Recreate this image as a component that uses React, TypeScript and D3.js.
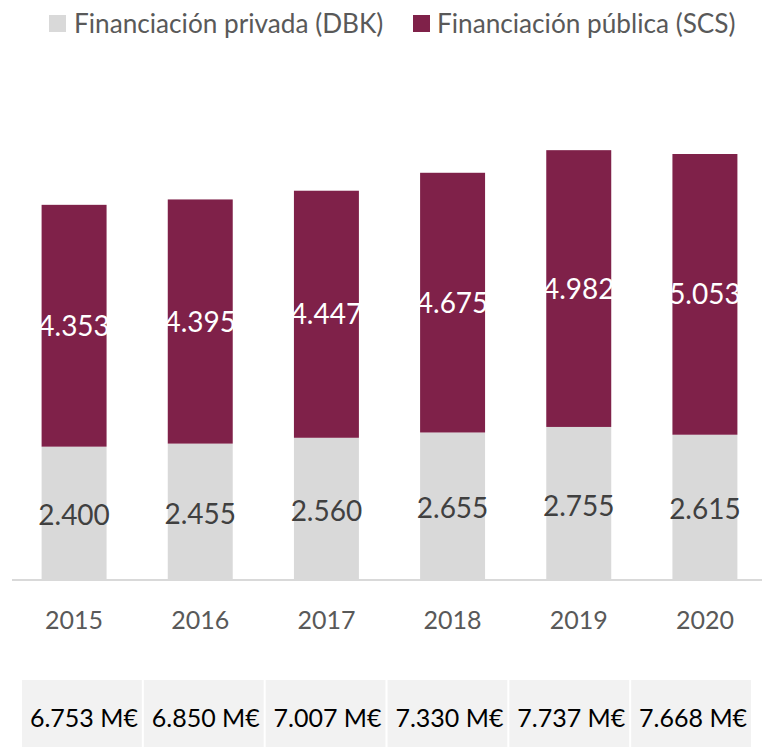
import React from "react";
import * as d3 from "d3";

const years = ["2015", "2016", "2017", "2018", "2019", "2020"];
const privada = [2400, 2455, 2560, 2655, 2755, 2615];
const publica = [4353, 4395, 4447, 4675, 4982, 5053];
const totals = ["6.753 M€", "6.850 M€", "7.007 M€", "7.330 M€", "7.737 M€", "7.668 M€"];
const legendLabels = ["Financiación privada (DBK)", "Financiación pública (SCS)"];

const W = 762;
const H = 747;
const FONT = "Lato, 'Open Sans', sans-serif";
const COL_PRIV = "#d9d9d9";
const COL_PUB = "#7f2149";

const fmt = (v: number) => d3.format(",")(v).replace(/,/g, ".");

export default function App() {
  const x = d3.scaleBand<string>().domain(years).range([11, 768]).paddingInner(0.485).paddingOuter(0.2425);
  const y = d3.scaleLinear().domain([0, 9000]).range([580, 80]);
  const tbl = d3.scaleBand<string>().domain(years).range([22, 751]).paddingInner(0.0165).paddingOuter(0);

  const data = years.map((yr, i) => ({ yr, p: privada[i], q: publica[i] }));
  const stack = d3.stack<any>().keys(["p", "q"])(data);

  return (
    <svg width={W} height={H} style={{ position: "absolute", left: 0, top: 0 }}>
      <rect width={W} height={H} fill="#fff" />
      {/* legend */}
      <rect x={49} y={15} width={17} height={17} fill={COL_PRIV} />
      <text x={74} y={33} fontFamily={FONT} fontSize={26.2} fill="#595959">{legendLabels[0]}</text>
      <rect x={413} y={15} width={17} height={17} fill={COL_PUB} />
      <text x={437} y={33} fontFamily={FONT} fontSize={26.2} fill="#595959">{legendLabels[1]}</text>

      {stack.map((s, si) =>
        s.map((d, i) => (
          <rect
            key={`${si}-${i}`}
            x={x(years[i])}
            width={x.bandwidth()}
            y={y(d[1])}
            height={y(d[0]) - y(d[1])}
            fill={si === 0 ? COL_PRIV : COL_PUB}
          />
        ))
      )}
      {stack.map((s, si) =>
        s.map((d, i) => (
          <text
            key={`t${si}-${i}`}
            x={(x(years[i]) as number) + x.bandwidth() / 2}
            y={(y(d[0]) + y(d[1])) / 2 + (si === 0 ? 5 : 3)}
            textAnchor="middle"
            dominantBaseline="middle"
            fontFamily={FONT}
            fontSize={28}
            fill={si === 0 ? "#404040" : "#ffffff"}
          >
            {fmt(si === 0 ? privada[i] : publica[i])}
          </text>
        ))
      )}
      <line x1={12} x2={762} y1={580} y2={580} stroke="#d9d9d9" strokeWidth={2} />
      {years.map((yr) => (
        <text
          key={yr}
          x={(x(yr) as number) + x.bandwidth() / 2}
          y={629}
          textAnchor="middle"
          fontFamily={FONT}
          fontSize={25}
          fill="#595959"
        >
          {yr}
        </text>
      ))}
      {years.map((yr, i) => (
        <g key={`c${yr}`}>
          <rect x={tbl(yr)} y={680} width={tbl.bandwidth()} height={67} fill="#f2f2f2" />
          <text
            x={(tbl(yr) as number) + tbl.bandwidth() / 2 + 2}
            y={727}
            textAnchor="middle"
            fontFamily={FONT}
            fontSize={25}
            fill="#000"
          >
            {totals[i]}
          </text>
        </g>
      ))}
    </svg>
  );
}
